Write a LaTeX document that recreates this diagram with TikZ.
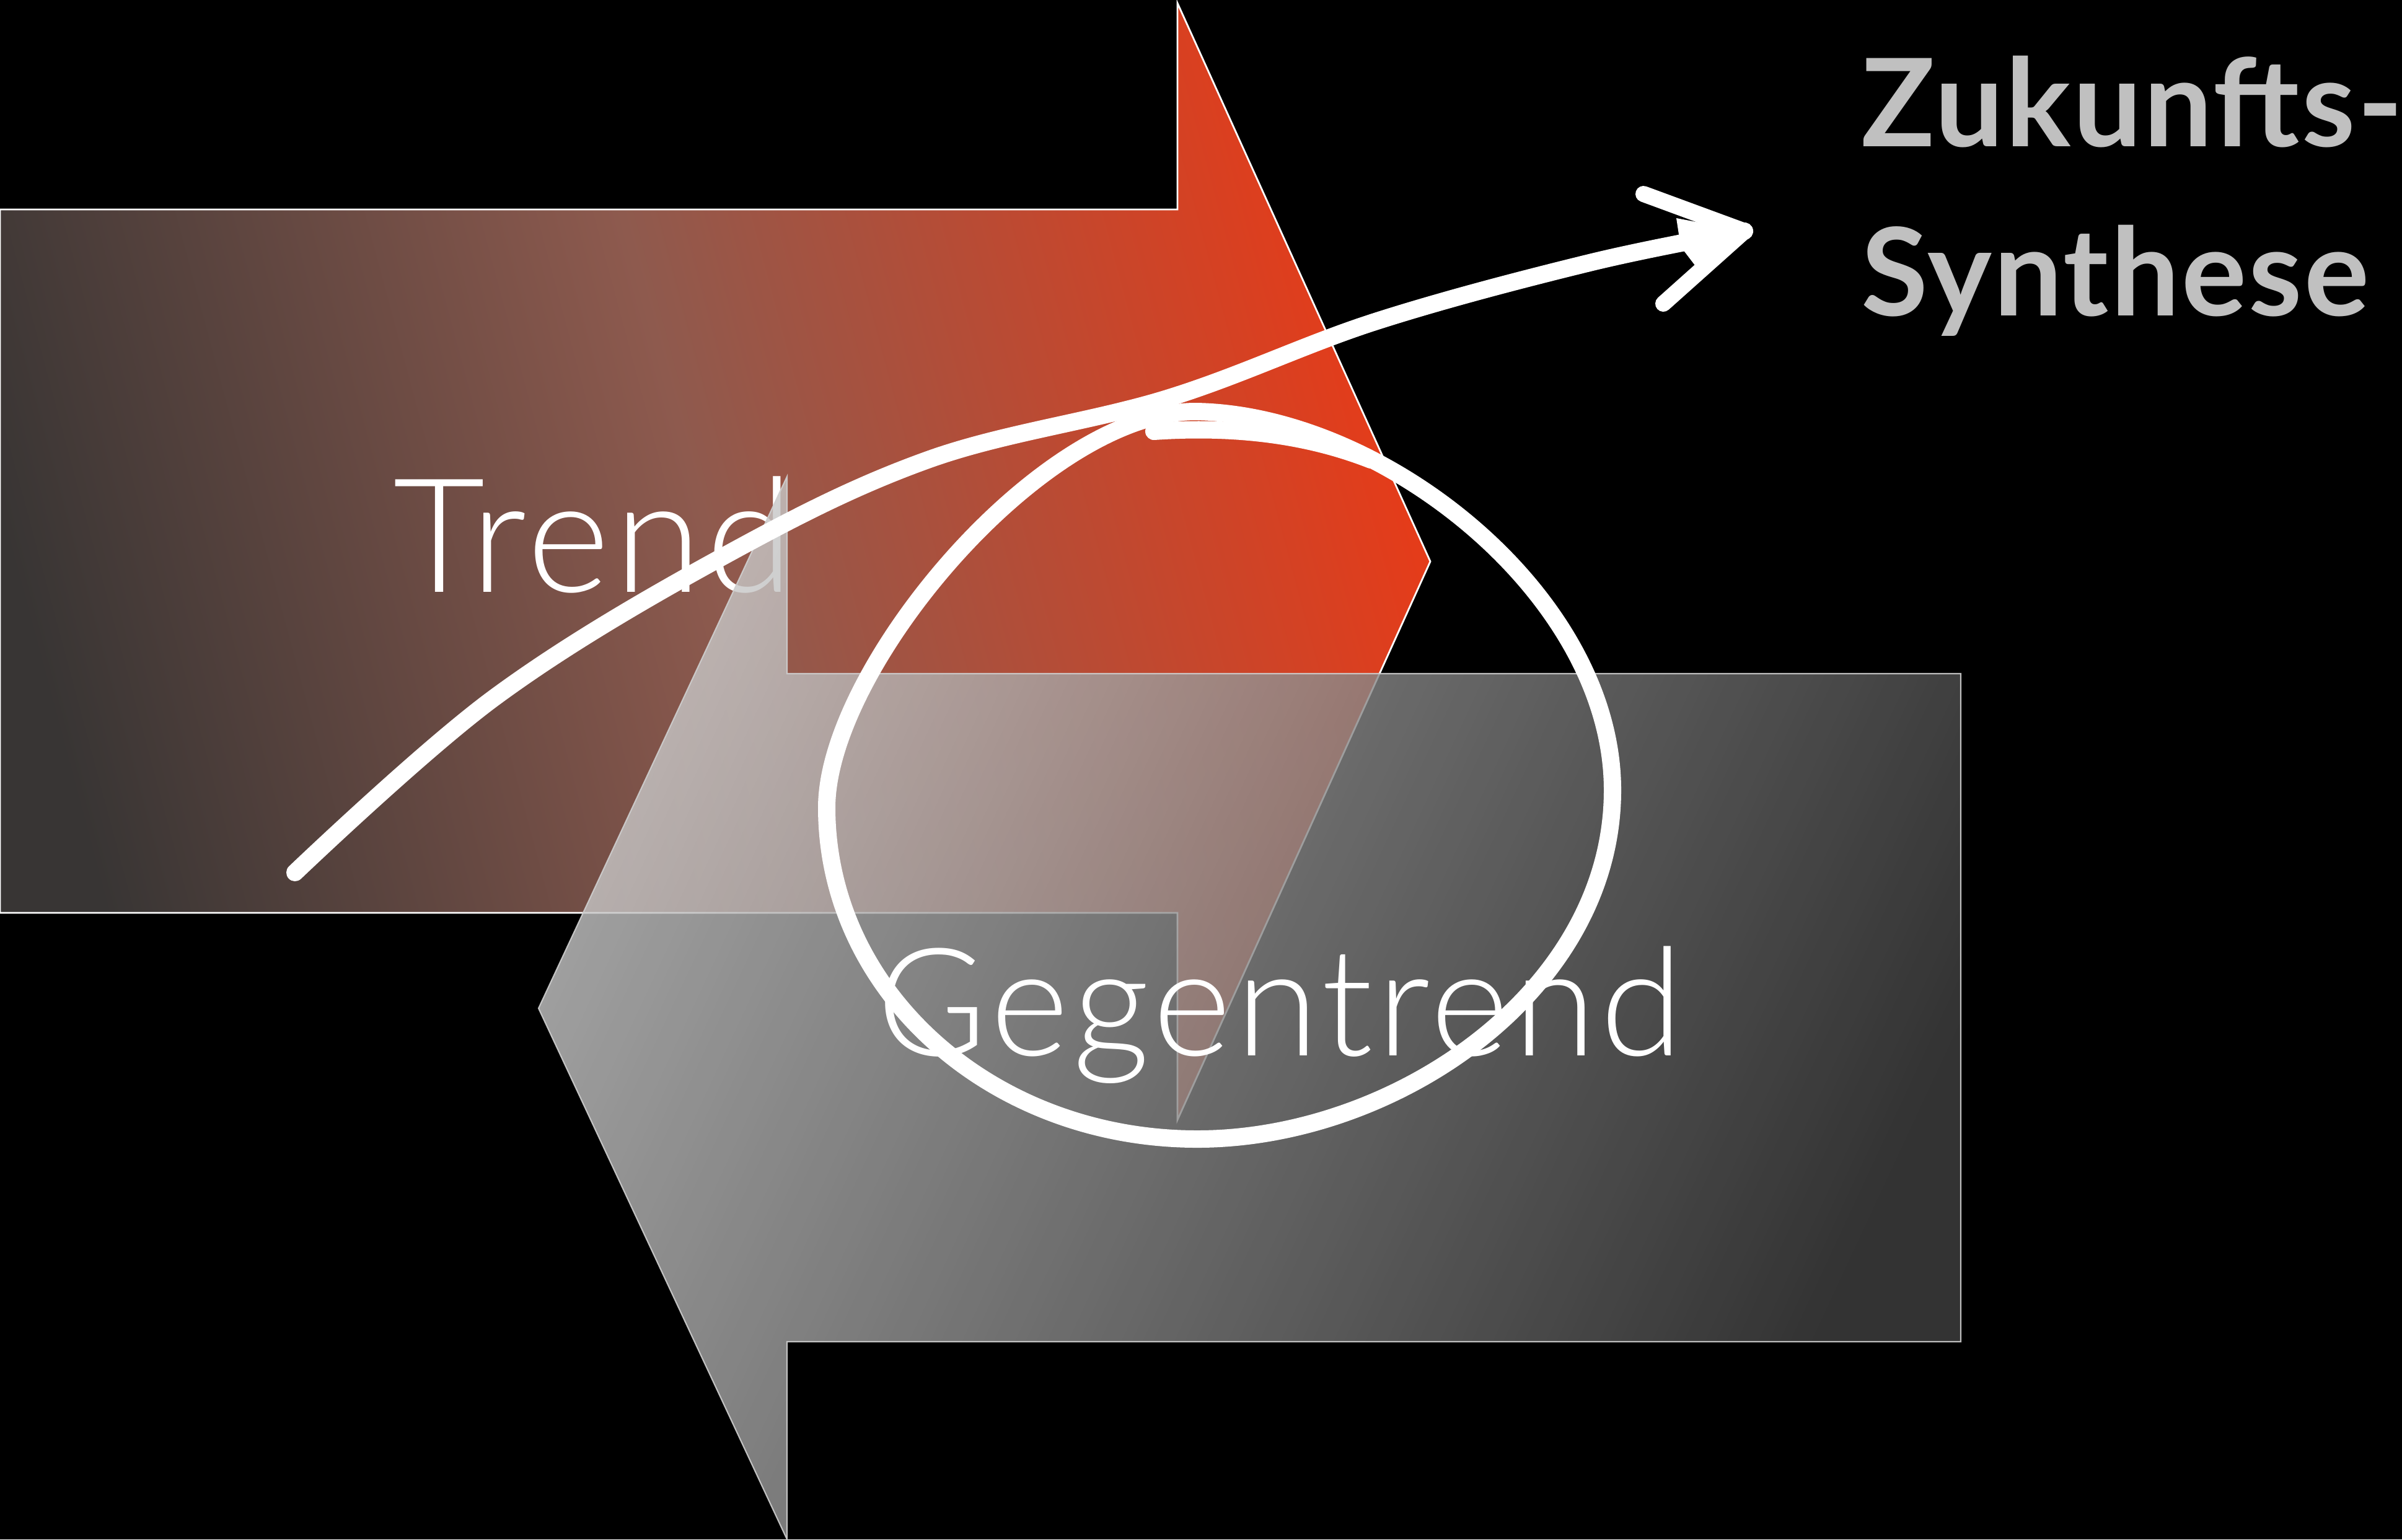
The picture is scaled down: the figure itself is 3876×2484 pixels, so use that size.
\documentclass[tikz,border=0pt]{standalone}
\usepackage{fontspec}
\IfFontExistsTF{Lato Light}{\newfontfamily\lightfont{Lato Light}[LetterSpace=2.8]}{\newfontfamily\lightfont{Lato}[LetterSpace=2.8]}
\newfontfamily\semifont{Lato}[LetterSpace=1.6]
\newcommand\headfont{\semifont\bfseries}
\definecolor{trendDark}{HTML}{383534}
\definecolor{trendMid}{HTML}{8E5A4E}
\definecolor{trendRed}{HTML}{E43C1A}
\definecolor{gegenLight}{HTML}{C8C8C8}
\definecolor{gegenDark}{HTML}{404040}
\definecolor{gegenEdge}{HTML}{CFCFCF}
\definecolor{headGray}{HTML}{C0C0C0}
\tikzset{
  trendarrow/.style={draw=white, line width=0.8pt, left color=trendDark, right color=trendRed, middle color=trendMid, shading angle=105},
  gegenarrow/.style={draw=gegenEdge, line width=0.6pt, left color=gegenLight, right color=gegenDark, shading angle=65, fill opacity=0.8, draw opacity=0.9},
  biglabel/.style={anchor=base west, inner sep=0pt, text=white},
  handline/.style={draw=white, line width=0.28cm, line cap=round, line join=round},
}
\begin{document}
\begin{tikzpicture}[x=0.01cm,y=-0.01cm]
\useasboundingbox (0,0) rectangle (3876,2484);
\fill[black] (0,0) rectangle (3876,2484);
% Trend arrow
\shade[trendarrow] (0,338) -- (1900,338) -- (1900,5) -- (2308,906) -- (1900,1807) -- (1900,1473) -- (0,1473) -- cycle;
\node[biglabel, font=\lightfont\fontsize{73}{80}\selectfont] (trendlbl) at (634,955) {Trend};
% Gegentrend arrow
\shade[gegenarrow] (3164,1087) -- (1270,1087) -- (1270,769) -- (869,1627) -- (1270,2484) -- (1270,2165) -- (3164,2165) -- cycle;
\node[biglabel, font=\lightfont\fontsize{69}{76}\selectfont] (gegenlbl) at (1414,1703) {Gegentrend};
% Heading
\node[anchor=base west, inner sep=0pt, align=left, text=headGray, font=\headfont\fontsize{56}{77.4}\selectfont] (synth) at (3003,509) {Zukunfts-\\Synthese};
% loop
\coordinate (lt) at (1929,664);
\coordinate (lr) at (2602,1275);
\coordinate (lb) at (1932,1838);
\coordinate (ll) at (1334,1303);
\draw[handline] (lt) .. controls (2230,668) and (2602,960) .. (lr)
  .. controls (2602,1600) and (2250,1838) .. (lb)
  .. controls (1600,1838) and (1334,1600) .. (ll)
  .. controls (1334,1080) and (1680,664) .. (lt) -- cycle;
\draw[handline] (1862,696) .. controls (1980,688) and (2100,698) .. (2212,742);
% curve with arrow
\coordinate (cstart) at (476,1408);
\coordinate (ctip) at (2815,373);
\coordinate (barbup) at (2652,313);
\coordinate (barblow) at (2684,490);
\draw[handline] plot[smooth, tension=0.6] coordinates {(cstart) (796,1127) (1163,900) (1500,741) (1883,643) (2219,519) (2565,424) (ctip)};
\draw[handline, line width=0.26cm] (barbup) -- (ctip) -- (barblow);
\fill[white, line join=round] (2705,352) -- (ctip) -- (2738,432) -- (2712,398) -- cycle;
\end{tikzpicture}
\end{document}
